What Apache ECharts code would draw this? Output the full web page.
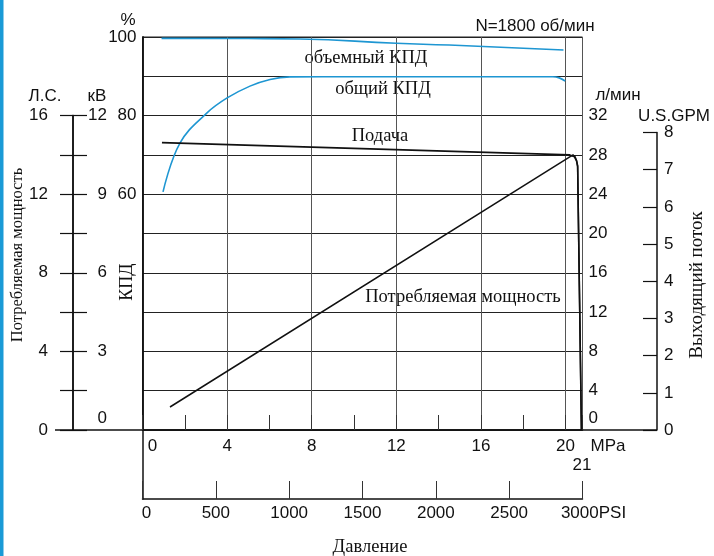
<!DOCTYPE html>
<html><head><meta charset="utf-8">
<script src="https://cdn.jsdelivr.net/npm/echarts@6/dist/echarts.min.js"></script>
<style>html,body{margin:0;padding:0;background:#fff}#c{width:714px;height:556px}</style>
</head><body><div id="c"></div>
<script>
// ---- data ----
const mpaLabels = [0, 4, 8, 12, 16, 20];
const psiLabels = [0, 500, 1000, 1500, 2000, 2500, 3000];
const effLabels = [60, 80, 100];
const hpLabels = [0, 4, 8, 12, 16];
const kwLabels = [0, 3, 6, 9, 12];
const flowLabels = [0, 4, 8, 12, 16, 20, 24, 28, 32];
const gpmLabels = [0, 1, 2, 3, 4, 5, 6, 7, 8];
// [MPa, %]
const volEff = [[0.9, 99.65], [5, 99.6], [7.45, 99.5], [12, 98.4], [14.5, 97.95], [19.9, 96.7]];
const totalEff = [[0.97, 60.6], [1.77, 73.0], [3.05, 80.7], [4.0, 84.5], [5.08, 87.5], [6.03, 89.2], [6.97, 89.85], [8.5, 89.9], [12, 89.9], [19.4, 89.9], [19.7, 89.6], [19.98, 88.8]];
// [MPa, л/мин]
const flow = [[0.92, 29.25], [20.2, 28.0], [20.42, 27.8], [20.52, 27.4], [20.57, 26.9], [20.75, 0]];
// [MPa, Л.С.]
const power = [[1.3, 1.17], [20.35, 14.0], [20.45, 13.9], [20.52, 13.7], [20.57, 13.4], [20.75, 0]];

const BLUE = '#1e96d2';
const INK = '#111';
const sans = '"Liberation Sans", Arial, sans-serif';
const serif = '"Liberation Serif", "Times New Roman", serif';
const FS = 17;
const lab = (extra) => Object.assign({fontSize: FS, color: INK, fontFamily: sans}, extra || {});
const axLine = {show: true, lineStyle: {color: INK, width: 1.5}};
const txt = (x, y, text, size, family, rot) => {
  const o = {type: 'text', x: x, y: y, silent: true,
    style: {text: text, fontSize: size, fontFamily: family, fill: INK, align: 'center', verticalAlign: 'middle'}};
  if (rot) o.rotation = rot;
  return o;
};

const chart = echarts.init(document.getElementById('c'));
const option = {
  animation: false,
  backgroundColor: '#fff',
  grid: [
    {left: 142.5, top: 37, width: 440, height: 393, show: true, borderColor: '#222', borderWidth: 1},
    {left: 73, top: 115.6, width: 1, height: 314.4},
    {left: 657, top: 132.5, width: 1, height: 297.5},
    {left: 142.5, top: 430, width: 440, height: 69}
  ],
  xAxis: [
    {gridIndex: 0, type: 'value', min: 0, max: 20.8, interval: 2, position: 'bottom',
     axisLine: axLine,
     axisTick: {show: true, inside: true, length: 15, lineStyle: {color: '#333'}},
     axisLabel: lab({margin: 8, showMinLabel: true, showMaxLabel: true,
       formatter: v => mpaLabels.includes(v) ? (v === 0 ? '{a|0}' : String(v)) : '',
       rich: {a: {padding: [0, 0, 0, 20], fontSize: FS, fontFamily: sans, color: INK}}}),
     splitLine: {show: false},
     name: 'MPa', nameLocation: 'end', nameGap: 8,
     nameTextStyle: {fontSize: FS, color: INK, fontFamily: sans, verticalAlign: 'top', padding: [8, 0, 0, 0]}},
    {gridIndex: 0, type: 'value', min: 0, max: 20.8, interval: 4, position: 'top',
     axisLine: {show: false}, axisTick: {show: false}, axisLabel: {show: false},
     splitLine: {show: true, lineStyle: {color: '#555', width: 1}}},
    {gridIndex: 1, type: 'value', min: 0, max: 1, show: false},
    {gridIndex: 2, type: 'value', min: 0, max: 1, show: false},
    {gridIndex: 3, type: 'value', min: 0, max: 3000, interval: 500, position: 'bottom',
     axisLine: axLine,
     axisTick: {show: true, inside: true, length: 18, lineStyle: {color: '#333'}},
     axisLabel: lab({margin: 6, showMinLabel: true, showMaxLabel: true,
       formatter: v => !psiLabels.includes(v) ? '' : v === 0 ? '{a|0}' : v === 3000 ? '{b|3000PSI}' : String(v),
       rich: {a: {padding: [0, 0, 0, 8], fontSize: FS, fontFamily: sans, color: INK},
              b: {padding: [0, 0, 0, 22], fontSize: FS, fontFamily: sans, color: INK}}}),
     splitLine: {show: false}}
  ],
  yAxis: [
    {gridIndex: 0, type: 'value', min: 0, max: 100, interval: 10, position: 'left',
     axisLine: axLine, axisTick: {show: false},
     axisLabel: lab({margin: 6, formatter: v => effLabels.includes(v) ? String(v) : ''}),
     splitLine: {show: true, lineStyle: {color: '#222', width: 1}}},
    {gridIndex: 0, type: 'value', min: 0, max: 40, interval: 4, position: 'right',
     axisLine: axLine, axisTick: {show: false},
     axisLabel: lab({margin: 6, formatter: v => !flowLabels.includes(v) ? '' : v === 0 ? '{z|0}' : String(v),
       rich: {z: {padding: [0, 0, 24, 0], fontSize: FS, fontFamily: sans, color: INK}}}),
     splitLine: {show: false}},
    {gridIndex: 0, type: 'value', min: 0, max: 20, show: false},
    {gridIndex: 1, type: 'value', min: 0, max: 16, interval: 2, position: 'left',
     axisLine: axLine, axisTick: {show: true, inside: false, length: 13, lineStyle: {color: INK, width: 1.2}},
     axisLabel: lab({margin: 25, formatter: v => hpLabels.includes(v) ? String(v) : ''}),
     splitLine: {show: false}},
    {gridIndex: 1, type: 'value', min: 0, max: 12, interval: 1.5, position: 'left',
     axisLine: axLine, axisTick: {show: true, inside: true, length: 14, lineStyle: {color: INK, width: 1.2}},
     axisLabel: lab({inside: true, align: 'right', margin: 34,
       formatter: v => !kwLabels.includes(v) ? '' : v === 0 ? '{z|0}' : String(v),
       rich: {z: {padding: [0, 0, 24, 0], fontSize: FS, fontFamily: sans, color: INK}}}),
     splitLine: {show: false}},
    {gridIndex: 2, type: 'value', min: 0, max: 8, interval: 1, position: 'left',
     axisLine: axLine, axisTick: {show: true, inside: false, length: 14, lineStyle: {color: INK, width: 1.2}},
     axisLabel: lab({inside: true, margin: 7, formatter: v => gpmLabels.includes(v) ? String(v) : ''}),
     splitLine: {show: false}},
    {gridIndex: 3, type: 'value', min: 0, max: 1, position: 'left',
     axisLine: axLine, axisTick: {show: false}, axisLabel: {show: false}, splitLine: {show: false}}
  ],
  series: [
    {name: 'объемный КПД', type: 'line', xAxisIndex: 0, yAxisIndex: 0, data: volEff, smooth: true,
     symbol: 'none', lineStyle: {color: BLUE, width: 1.6}, z: 5},
    {name: 'общий КПД', type: 'line', xAxisIndex: 0, yAxisIndex: 0, data: totalEff, smooth: 0.4,
     symbol: 'none', lineStyle: {color: BLUE, width: 1.6}, z: 5},
    {name: 'Подача', type: 'line', xAxisIndex: 0, yAxisIndex: 1, data: flow,
     symbol: 'none', lineStyle: {color: INK, width: 1.6}, z: 6},
    {name: 'Потребляемая мощность', type: 'line', xAxisIndex: 0, yAxisIndex: 2, data: power,
     symbol: 'none', lineStyle: {color: INK, width: 1.5}, z: 6}
  ],
  graphic: [
    {type: 'rect', shape: {x: 0, y: 0, width: 3.5, height: 556}, style: {fill: '#1a9ad6'}, silent: true},
    {type: 'line', shape: {x1: 55, y1: 430, x2: 657, y2: 430}, style: {stroke: INK, lineWidth: 1.5}, silent: true},
    txt(128, 20, '%', FS, sans),
    txt(45, 96, 'Л.С.', FS, sans),
    txt(97, 96, 'кВ', FS, sans),
    txt(618, 95, 'л/мин', FS, sans),
    txt(674, 116, 'U.S.GPM', FS, sans),
    txt(535, 26, 'N=1800 об/мин', FS, sans),
    txt(582, 465, '21', FS, sans),
    txt(370, 547, 'Давление', 18.5, serif),
    txt(366, 58, 'объемный КПД', 18.5, serif),
    txt(383, 89, 'общий КПД', 18.5, serif),
    txt(380, 136, 'Подача', 18.5, serif),
    txt(463, 297, 'Потребляемая мощность', 18.5, serif),
    txt(18, 255, 'Потребляемая мощность', 16.5, serif, Math.PI / 2),
    txt(127, 282, 'КПД', 18, serif, Math.PI / 2),
    txt(697, 285, 'Выходящий поток', 19, serif, Math.PI / 2)
  ]
};
chart.setOption(option);
</script>
</body></html>
